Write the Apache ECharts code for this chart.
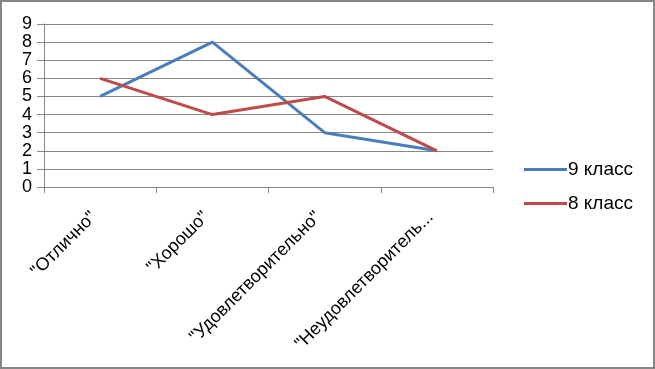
<!DOCTYPE html>
<html>
<head>
<meta charset="utf-8">
<script src="https://cdn.jsdelivr.net/npm/echarts@6/dist/echarts.min.js"></script>
<style>
html,body{margin:0;padding:0;background:#fff;}
#chart{width:655px;height:369px;}
</style>
</head>
<body>
<div id="chart"></div>
<script>
var categories = ['"Отлично"', '"Хорошо"', '"Удовлетворительно"', '"Неудовлетворительно"'];
var grade9 = [5, 8, 3, 2];
var grade8 = [6, 4, 5, 2];
var yTicks = [0, 1, 2, 3, 4, 5, 6, 7, 8, 9];

var FONT = 'Liberation Sans';
var chart = echarts.init(document.getElementById('chart'), null, {renderer: 'canvas'});
chart.setOption({
  animation: false,
  backgroundColor: '#ffffff',
  textStyle: {fontFamily: FONT},
  grid: {left: 44, right: 162, top: 24, bottom: 182, containLabel: false},
  graphic: [{
    type: 'rect', z: 100,
    shape: {x: 1, y: 1, width: 653, height: 367},
    style: {fill: 'none', stroke: '#868686', lineWidth: 2}
  }],
  xAxis: {
    type: 'category',
    data: categories,
    boundaryGap: true,
    axisLine: {show: true, lineStyle: {color: '#868686', width: 1}},
    axisTick: {show: true, alignWithLabel: false, length: 6, lineStyle: {color: '#868686'}},
    axisLabel: {
      rotate: 45, margin: 21, interval: 0, padding: [0, 9, 0, 0],
      color: '#000', fontSize: 18, fontFamily: FONT,
      formatter: function (v) { return v.length > 20 ? v.slice(0, 18) + '...' : v; }
    },
    splitLine: {show: false}
  },
  yAxis: {
    type: 'value',
    min: yTicks[0], max: yTicks[yTicks.length - 1], interval: 1,
    axisLine: {show: true, lineStyle: {color: '#868686', width: 1}},
    axisTick: {show: true, length: 7, lineStyle: {color: '#868686'}},
    axisLabel: {color: '#000', fontSize: 18, fontFamily: FONT, margin: 12},
    splitLine: {show: true, lineStyle: {color: '#868686', width: 1}}
  },
  legend: {
    orient: 'vertical',
    left: 519, top: 155,
    itemWidth: 43, itemHeight: 3, itemGap: 15,
    icon: 'rect',
    textStyle: {color: '#000', fontSize: 19, fontFamily: FONT, padding: [0, 0, 0, -4]},
    data: ['9 класс', '8 класс']
  },
  series: [
    {name: '9 класс', type: 'line', data: grade9, symbol: 'none',
     color: '#4A7EBB', lineStyle: {width: 3, color: '#4A7EBB'}},
    {name: '8 класс', type: 'line', data: grade8, symbol: 'none',
     color: '#BE4B48', lineStyle: {width: 3, color: '#BE4B48'}}
  ]
});
</script>
</body>
</html>
